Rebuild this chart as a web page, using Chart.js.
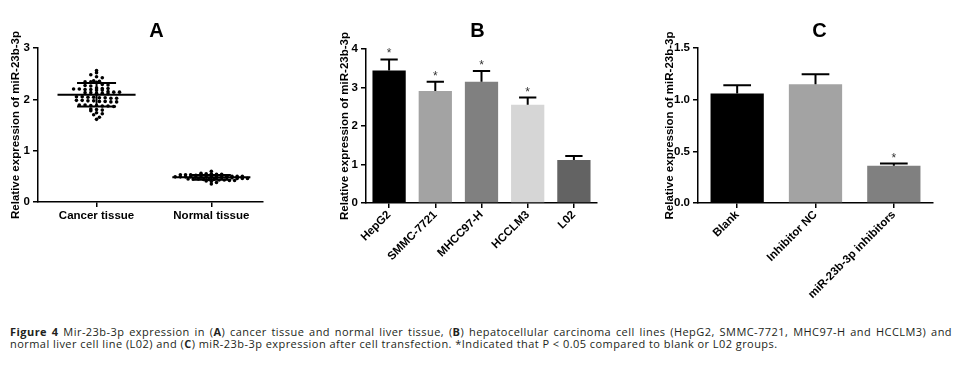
<!DOCTYPE html>
<html>
<head>
<meta charset="utf-8">
<script src="https://cdn.jsdelivr.net/npm/chart.js@4.4.1/dist/chart.umd.min.js"></script>
<style>
    html, body { margin: 0; padding: 0; background: #fff; width: 962px; height: 374px; overflow: hidden; }
    canvas { position: absolute; top: 0; }
    #chartA { left: 0; }
    #chartB { left: 330px; }
    #chartC { left: 660px; }
    .caption {
        position: absolute; left: 10px; top: 326px; width: 942px;
        font-family: "Open Sans", Lato, sans-serif; font-size: 11px; line-height: 12px;
        letter-spacing: 0.45px; color: #231f20;
    }
    .caption .first { text-align: justify; text-align-last: justify; }
</style>
</head>
<body>
<canvas id="chartA" width="314" height="240"></canvas>
<canvas id="chartB" width="294" height="290"></canvas>
<canvas id="chartC" width="320" height="300"></canvas>

<div class="caption">
    <div class="first"><b>Figure 4</b> Mir-23b-3p expression in (<b>A</b>) cancer tissue and normal liver tissue, (<b>B</b>) hepatocellular carcinoma cell lines (HepG2, SMMC-7721, MHC97-H and HCCLM3) and</div>
    <div>normal liver cell line (L02) and (<b>C</b>) miR-23b-3p expression after cell transfection. *Indicated that P &lt; 0.05 compared to blank or L02 groups.</div>
</div>

<script>
//------------Data-----------------

const tissueLabels = ['Cancer tissue', 'Normal tissue'];

const cancerValues = [
    2.56, 2.52, 2.48, 2.44, 2.42,
    2.36, 2.35, 2.34, 2.34, 2.33,
    2.29, 2.28, 2.27, 2.26,
    2.22, 2.21, 2.21, 2.20, 2.20, 2.19, 2.19, 2.18, 2.18,
    2.15, 2.14, 2.14, 2.13, 2.13, 2.12, 2.12, 2.11,
    2.05, 2.05, 2.04, 2.04, 2.03, 2.03, 2.02, 2.02,
    1.98, 1.98, 1.97, 1.97, 1.96, 1.96, 1.95, 1.95,
    1.89, 1.89, 1.88, 1.88, 1.87, 1.87, 1.86,
    1.81, 1.80, 1.79, 1.78,
    1.74, 1.72, 1.70,
    1.65, 1.61
];

const normalValues = [
    0.60, 0.56, 0.55, 0.55, 0.54, 0.54, 0.53, 0.53, 0.53, 0.52, 0.52, 0.52,
    0.51, 0.51, 0.51, 0.50, 0.50, 0.50, 0.50, 0.49, 0.49, 0.49, 0.49,
    0.48, 0.48, 0.48, 0.48, 0.47, 0.47, 0.47, 0.47, 0.46, 0.46, 0.46,
    0.45, 0.45, 0.45, 0.44, 0.44, 0.44, 0.43, 0.43, 0.42, 0.42, 0.41,
    0.40, 0.38, 0.35
];

const tissueMeans = [2.09, 0.48];
const tissueSD = [0.23, 0.045];

const cellLines = ['HepG2', 'SMMC-7721', 'MHCC97-H', 'HCCLM3', 'L02'];
const cellValues = [3.44, 2.91, 3.15, 2.55, 1.12];
const cellErrors = [0.29, 0.24, 0.28, 0.19, 0.10];
const cellMarks = ['*', '*', '*', '*', ''];

const groupLabels = ['Blank', 'Inhibitor NC', 'miR-23b-3p inhibitors'];
const groupValues = [1.06, 1.15, 0.36];
const groupErrors = [0.08, 0.095, 0.022];
const groupMarks = ['', '', '*'];

const yTitle = 'Relative expression of miR-23b-3p';

//------------Common Styles-----------------

const fontFamily = '"Liberation Sans", Arial, sans-serif';
const axisFont = { family: fontFamily, size: 11.5, weight: 'bold' };

Chart.defaults.color = '#000';
Chart.defaults.animation = false;

function axisGrid() {
    return {
        display: true,
        drawOnChartArea: false,
        drawTicks: true,
        tickLength: 5,
        color: '#000',
        lineWidth: 1.5,
        offset: false
    };
}

const axisBorder = { display: true, color: '#000', width: 1.5 };

// Panel letter over the plot area (shift = nudge from plot centre)
function panelLetter(text, shift) {
    return {
        id: 'panelLetter',
        afterDraw(chart) {
            const a = chart.chartArea;
            const ctx = chart.ctx;
            ctx.save();
            ctx.fillStyle = '#000';
            ctx.font = 'bold 20px ' + fontFamily;
            ctx.textAlign = 'center';
            ctx.textBaseline = 'middle';
            ctx.fillText(text, (a.left + a.right) / 2 + shift, 31);
            ctx.restore();
        }
    };
}

// Beeswarm spread: points in the same value row are pushed sideways
function spreadPoints(values, center, rowSize, step) {
    const rows = {};
    values.forEach(v => {
        const key = Math.round(v / rowSize);
        if (!rows[key]) rows[key] = [];
        rows[key].push(v);
    });
    const points = [];
    Object.values(rows).forEach(row => {
        row.forEach((v, j) => {
            points.push({ x: center + (j - (row.length - 1) / 2) * step, y: v });
        });
    });
    return points;
}

function segment(x1, y1, x2, y2) {
    return {
        type: 'line',
        data: [{ x: x1, y: y1 }, { x: x2, y: y2 }],
        showLine: true,
        borderColor: '#000',
        borderWidth: 2,
        pointRadius: 0,
        order: 0
    };
}

// Error bars (upper only) and significance marks above bars
function errorBarPlugin(errors, marks) {
    return {
        id: 'errorBars',
        afterDatasetsDraw(chart) {
            const ctx = chart.ctx;
            const yScale = chart.scales.y;
            const meta = chart.getDatasetMeta(0);
            const values = chart.data.datasets[0].data;
            ctx.save();
            ctx.strokeStyle = '#000';
            ctx.lineWidth = 2;
            meta.data.forEach((bar, i) => {
                const top = yScale.getPixelForValue(values[i] + errors[i]);
                const half = bar.width * 0.26;
                ctx.beginPath();
                ctx.moveTo(bar.x, bar.y);
                ctx.lineTo(bar.x, top);
                ctx.moveTo(bar.x - half, top);
                ctx.lineTo(bar.x + half, top);
                ctx.stroke();
                if (marks[i]) {
                    ctx.fillStyle = '#333';
                    ctx.font = '12px ' + fontFamily;
                    ctx.textAlign = 'center';
                    ctx.textBaseline = 'alphabetic';
                    ctx.fillText(marks[i], bar.x, top - 2);
                }
            });
            ctx.restore();
        }
    };
}

//------------Chart A: scatter-----------------

const datasetsA = [
    {
        type: 'scatter',
        data: spreadPoints(cancerValues, 1, 0.07, 0.05),
        backgroundColor: '#000',
        pointRadius: 1.8,
        pointBorderWidth: 0,
        order: 1
    },
    {
        type: 'scatter',
        data: spreadPoints(normalValues, 2, 0.04, 0.045),
        backgroundColor: '#000',
        pointRadius: 1.8,
        pointBorderWidth: 0,
        order: 1
    }
];

tissueMeans.forEach((m, i) => {
    const cx = i + 1;
    const lo = m - tissueSD[i];
    const hi = m + tissueSD[i];
    datasetsA.push(segment(cx - 0.34, m, cx + 0.34, m));
    datasetsA.push(segment(cx - 0.17, hi, cx + 0.17, hi));
    datasetsA.push(segment(cx - 0.17, lo, cx + 0.17, lo));
    datasetsA.push(segment(cx, lo, cx, hi));
});

new Chart(document.getElementById('chartA'), {
    type: 'scatter',
    data: { datasets: datasetsA },
    plugins: [panelLetter('A', 6)],
    options: {
        responsive: false,
        layout: { padding: { left: 0, right: 51, top: 48, bottom: 0 } },
        plugins: {
            legend: { display: false },
            tooltip: { enabled: false }
        },
        scales: {
            x: {
                type: 'linear',
                min: 0.49,
                max: 2.45,
                afterBuildTicks: scale => { scale.ticks = [{ value: 1 }, { value: 2 }]; },
                afterFit: scale => { scale.height = 38; },
                ticks: {
                    font: axisFont,
                    padding: 2,
                    callback: value => tissueLabels[value - 1]
                },
                grid: axisGrid(),
                border: axisBorder
            },
            y: {
                min: 0,
                max: 3,
                afterFit: scale => { scale.width = 38; },
                ticks: { stepSize: 1, font: axisFont, padding: 3 },
                grid: axisGrid(),
                border: axisBorder,
                title: { display: true, text: yTitle, font: axisFont, padding: { top: 9, bottom: 0 } }
            }
        }
    }
});

//------------Chart B: cell lines-----------------

new Chart(document.getElementById('chartB'), {
    type: 'bar',
    data: {
        labels: cellLines,
        datasets: [{
            data: cellValues,
            backgroundColor: ['#000000', '#a3a3a3', '#808080', '#d6d6d6', '#636363'],
            categoryPercentage: 1,
            barPercentage: 0.72
        }]
    },
    plugins: [errorBarPlugin(cellErrors, cellMarks), panelLetter('B', -4)],
    options: {
        responsive: false,
        layout: { padding: { left: 0, right: 27, top: 49, bottom: 0 } },
        plugins: {
            legend: { display: false },
            tooltip: { enabled: false }
        },
        scales: {
            x: {
                afterFit: scale => { scale.height = 87; },
                ticks: { font: axisFont, minRotation: 45, maxRotation: 45, padding: 0 },
                grid: axisGrid(),
                border: axisBorder
            },
            y: {
                min: 0,
                max: 4,
                afterFit: scale => { scale.width = 36; },
                ticks: { stepSize: 1, font: axisFont, padding: 3 },
                grid: axisGrid(),
                border: axisBorder,
                title: { display: true, text: yTitle, font: axisFont, padding: { top: 8, bottom: 0 } }
            }
        }
    }
});

//------------Chart C: transfection-----------------

new Chart(document.getElementById('chartC'), {
    type: 'bar',
    data: {
        labels: groupLabels,
        datasets: [{
            data: groupValues,
            backgroundColor: ['#000000', '#a3a3a3', '#808080'],
            categoryPercentage: 1,
            barPercentage: 0.68
        }]
    },
    plugins: [errorBarPlugin(groupErrors, groupMarks), panelLetter('C', 4)],
    options: {
        responsive: false,
        layout: { padding: { left: 0, right: 47, top: 48, bottom: 0 } },
        plugins: {
            legend: { display: false },
            tooltip: { enabled: false }
        },
        scales: {
            x: {
                afterFit: scale => { scale.height = 97; },
                ticks: { font: axisFont, minRotation: 45, maxRotation: 45, padding: 0 },
                grid: axisGrid(),
                border: axisBorder
            },
            y: {
                min: 0,
                max: 1.5,
                afterFit: scale => { scale.width = 38; },
                ticks: { stepSize: 0.5, font: axisFont, padding: 3, callback: v => v.toFixed(1) },
                grid: axisGrid(),
                border: axisBorder,
                title: { display: true, text: yTitle, font: axisFont, padding: { top: 3, bottom: 0 } }
            }
        }
    }
});
</script>
</body>
</html>
